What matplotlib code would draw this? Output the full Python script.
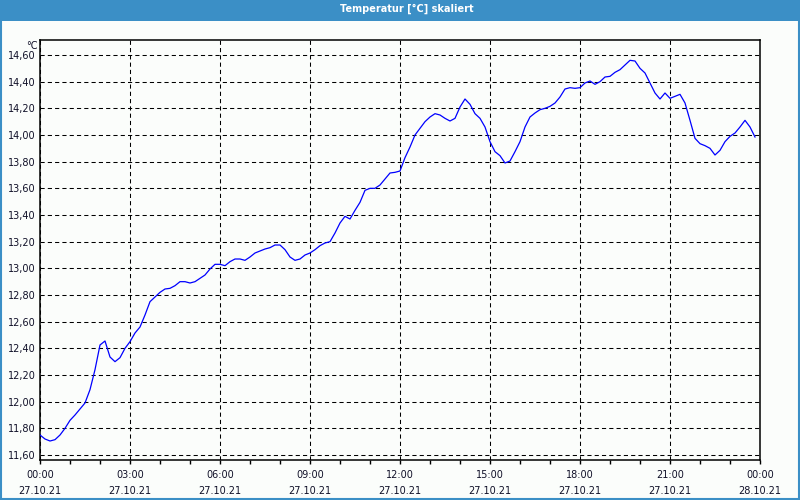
import matplotlib
matplotlib.use("Agg")
import matplotlib.pyplot as plt
import matplotlib.dates as mdates
from matplotlib.patches import Rectangle
from matplotlib.ticker import FixedLocator, FuncFormatter
import pandas as pd

TITLE = "Temperatur [°C] skaliert"
START = "2021-10-27 00:00"
STEP = "10min"

# Temperatur alle 10 Minuten
temps = [
    11.75, 11.72, 11.705, 11.715, 11.75, 11.80, 11.86, 11.90, 11.945, 11.99,
    12.09, 12.24, 12.425, 12.455, 12.335, 12.30, 12.33, 12.40, 12.45, 12.515,
    12.56, 12.65, 12.75, 12.785, 12.82, 12.845, 12.85, 12.87, 12.90, 12.90,
    12.89, 12.90, 12.925, 12.95, 12.995, 13.03, 13.03, 13.02, 13.05, 13.07,
    13.07, 13.06, 13.085, 13.115, 13.13, 13.145, 13.155, 13.175, 13.175, 13.14,
    13.085, 13.06, 13.07, 13.10, 13.115, 13.14, 13.17, 13.19, 13.20, 13.265,
    13.34, 13.39, 13.37, 13.435, 13.495, 13.585, 13.60, 13.60, 13.625, 13.67,
    13.715, 13.72, 13.73, 13.83, 13.91, 14.00, 14.05, 14.10, 14.135, 14.16,
    14.15, 14.125, 14.105, 14.125, 14.21, 14.27, 14.23, 14.16, 14.125, 14.06,
    13.95, 13.875, 13.845, 13.79, 13.805, 13.875, 13.95, 14.06, 14.135, 14.165,
    14.19, 14.20, 14.215, 14.24, 14.285, 14.345, 14.355, 14.35, 14.355, 14.39,
    14.405, 14.38, 14.40, 14.435, 14.44, 14.47, 14.49, 14.525, 14.56, 14.555,
    14.50, 14.465, 14.39, 14.315, 14.27, 14.315, 14.275, 14.29, 14.305, 14.24,
    14.11, 13.975, 13.935, 13.92, 13.90, 13.85, 13.885, 13.95, 13.99, 14.015,
    14.06, 14.11, 14.06, 13.985,
]
y_ticks = [11.6, 11.8, 12.0, 12.2, 12.4, 12.6, 12.8, 13.0, 13.2, 13.4,
           13.6, 13.8, 14.0, 14.2, 14.4, 14.6]

times = pd.date_range(START, periods=len(temps), freq=STEP)

BG = "#fbfdfb"
BLUE_BAR = "#3b8fc6"
TXT = "#101028"

plt.rcParams["font.family"] = ["DejaVu Sans"]

fig = plt.figure(figsize=(8, 5), dpi=100, facecolor=BG)

# Titelleiste + Rahmen
fig.patches.append(Rectangle((0, 1 - 21 / 500), 1, 21 / 500, transform=fig.transFigure,
                             facecolor=BLUE_BAR, edgecolor="none", zorder=0))
fig.patches.append(Rectangle((0.001, 0.002), 0.998, 0.996, transform=fig.transFigure,
                             facecolor="none", edgecolor=BLUE_BAR, lw=1.5, zorder=1))
fig.text(407 / 800, 1 - 9 / 500, TITLE, color="white", fontsize=7, fontweight="bold",
         ha="center", va="center")

ax = fig.add_axes([40 / 800, 40 / 500, 720 / 800, 420 / 500])
ax.set_facecolor(BG)
ax.plot(times, temps, color="#0000ff", lw=0.9, zorder=3)

ax.set_xlim(pd.Timestamp("2021-10-27 00:00"), pd.Timestamp("2021-10-28 00:00"))
ax.set_ylim(11.5625, 14.7125)

ax.yaxis.set_major_locator(FixedLocator(y_ticks))
ax.yaxis.set_major_formatter(FuncFormatter(lambda v, p: f"{v:.2f}".replace(".", ",")))
ax.xaxis.set_major_locator(mdates.HourLocator(byhour=range(0, 24, 3)))
ax.xaxis.set_minor_locator(mdates.HourLocator())
ax.xaxis.set_major_formatter(mdates.DateFormatter("%H:%M\n%d.%m.%y"))

ax.tick_params(axis="y", length=0, pad=3, labelsize=7, labelcolor=TXT)
ax.tick_params(axis="x", which="both", direction="out", length=3, width=1,
               pad=4, labelsize=7, labelcolor=TXT)
for lbl in ax.get_xticklabels():
    lbl.set_linespacing(1.75)

ax.grid(True, which="major", color="black", lw=0.75, linestyle=(0, (4, 3)))
for s in ax.spines.values():
    s.set_linewidth(1.1)
    s.set_color("black")

fig.text(38 / 800, 1 - 46 / 500, "°C", fontsize=7, color=TXT, ha="right", va="center")

fig.savefig("out.png", dpi=100, facecolor=BG)
